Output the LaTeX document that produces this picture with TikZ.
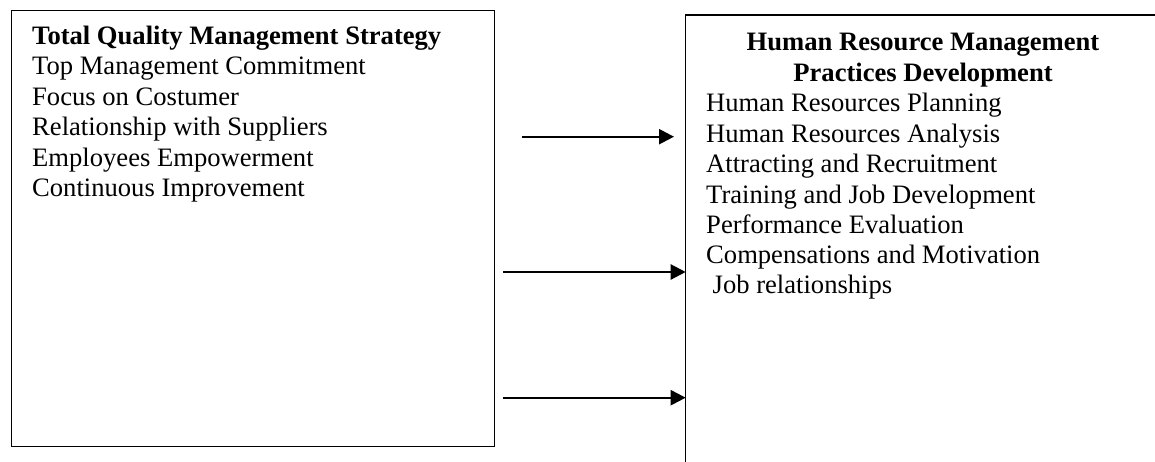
\documentclass[tikz,border=0pt]{standalone}
\usepackage{fontspec}
\setmainfont{Liberation Serif}
\usetikzlibrary{arrows.meta}
\begin{document}
\begin{tikzpicture}[x=1pt,y=-1pt,
  frame/.style={line width=1.3pt},
  flow/.style={line width=2.3pt,-{Triangle[length=15pt,width=15pt]}},
  txt/.style={font=\fontsize{26.6}{30.5}\selectfont, inner sep=0pt},
  item/.style={txt, anchor=base west},
  head/.style={txt, font=\fontsize{26.6}{30.5}\selectfont\bfseries},
]
\useasboundingbox (0,0) rectangle (1155,462);

% Left box: TQM strategy
\node[draw, frame, inner sep=0pt, anchor=north west,
      minimum width=483.3pt, minimum height=436pt] (tqm) at (10.7,10) {};
\node[head, anchor=base west] (tqmtitle) at (32,44.5) {Total Quality Management Strategy};
\node[item] (t1) at (32,74.9)  {Top Management Commitment};
\node[item] (t2) at (32,105.3) {Focus on Costumer};
\node[item] (t3) at (32,135.7) {Relationship with Suppliers};
\node[item] (t4) at (32,166.1) {Employees Empowerment};
\node[item] (t5) at (32,196.5) {Continuous Improvement};

% Right box: HRM practices (open to the right and bottom)
\node[inner sep=0pt, anchor=north west,
      minimum width=475pt, minimum height=452pt] (hrm) at (685.7,15) {};
\draw[frame] (hrm.south west) -- (hrm.north west) -- (hrm.north east);
\node[head, anchor=base] (hrmtitle1) at (923,50.7) {Human Resource Management};
\node[head, anchor=base] (hrmtitle2) at (923,81.2) {Practices Development};
\node[item] (h1) at (706,111.7) {Human Resources Planning};
\node[item] (h2) at (706,142.2) {Human Resources Analysis};
\node[item] (h3) at (706,172.7) {Attracting and Recruitment};
\node[item] (h4) at (706,203.2) {Training and Job Development};
\node[item] (h5) at (706,233.4) {Performance Evaluation};
\node[item] (h6) at (706,263.6) {Compensations and Motivation};
\node[item] (h7) at (712.5,293.8) {Job relationships};

% Connecting arrows
\coordinate (a1s) at (522,136.7);
\coordinate (a1e) at (674,136.7);
\coordinate (a2s) at (503,272);
\coordinate (a3s) at (503,397.7);
\draw[flow] (a1s) -- (a1e);
\draw[flow] (a2s) -- (a2s -| hrm.west);
\draw[flow] (a3s) -- (a3s -| hrm.west);
\end{tikzpicture}
\end{document}
